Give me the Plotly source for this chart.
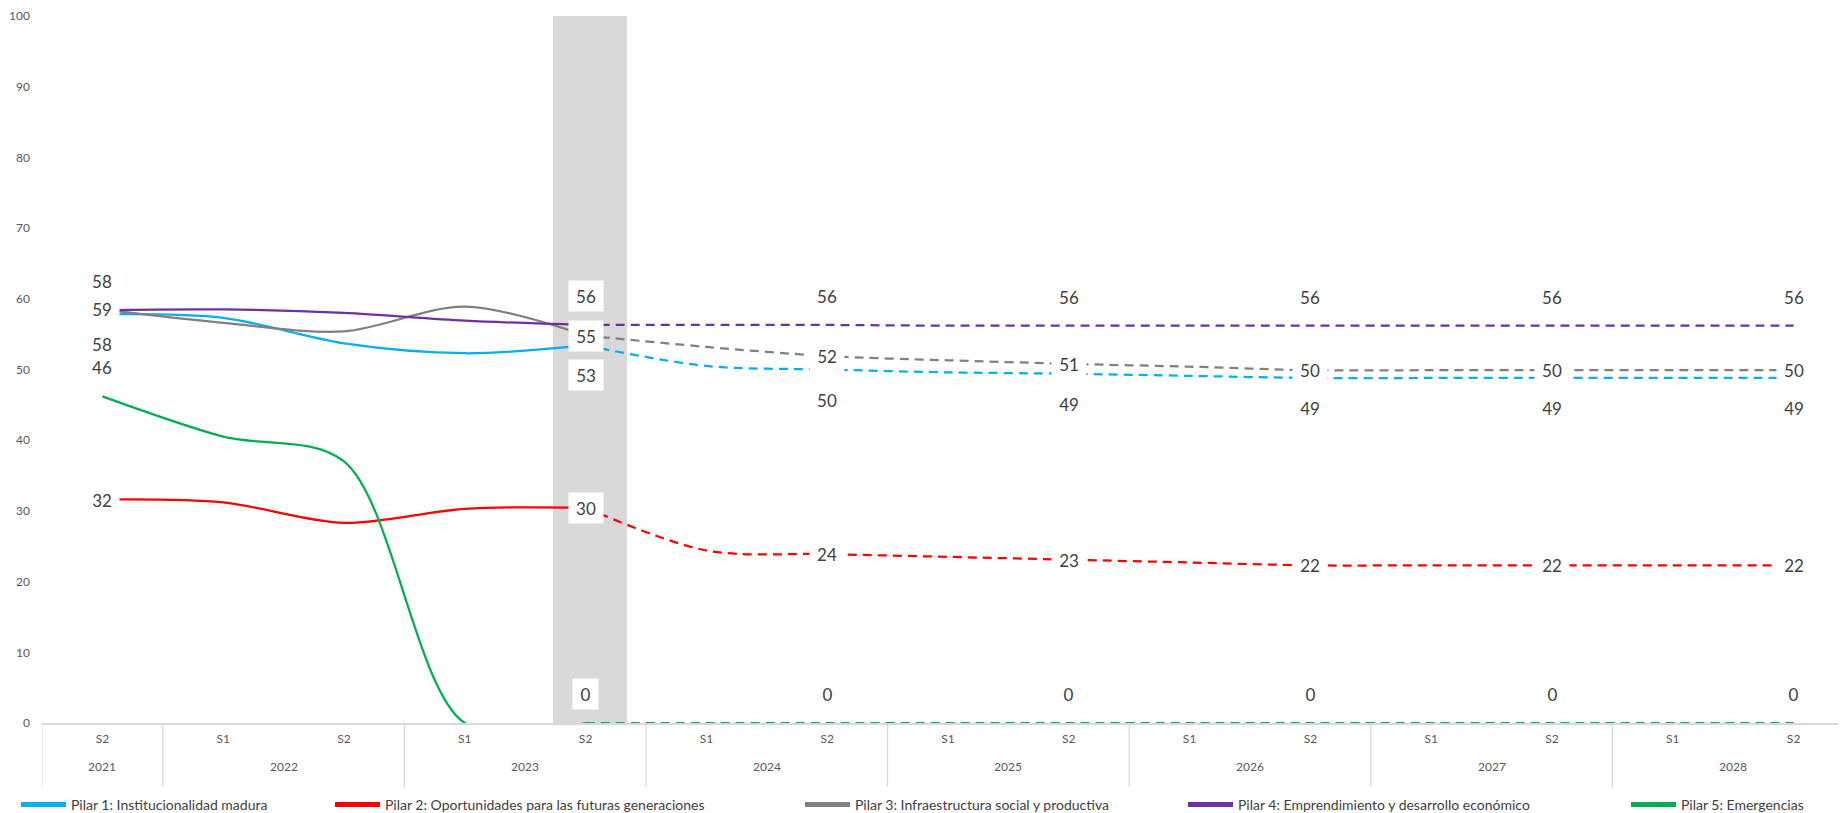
import plotly.graph_objects as go

# ---------------- data ----------------
years = ["2021", "2022", "2022", "2023", "2023", "2024", "2024", "2025", "2025",
         "2026", "2026", "2027", "2027", "2028", "2028"]
semesters = ["S2", "S1", "S2", "S1", "S2", "S1", "S2", "S1", "S2",
             "S1", "S2", "S1", "S2", "S1", "S2"]

pilar1 = [57.8, 57.3, 53.7, 52.3, 53.4, 50.5, 50.0, 49.6, 49.4, 49.1, 48.8, 48.8, 48.8, 48.8, 48.8]
pilar2 = [31.6, 31.2, 28.3, 30.3, 30.45, 24.4, 23.9, 23.5, 23.1, 22.7, 22.3, 22.3, 22.3, 22.3, 22.3]
pilar3 = [58.5, 56.6, 55.4, 58.9, 54.8, 53.2, 51.9, 51.3, 50.8, 50.4, 49.9, 49.9, 49.9, 49.9, 49.9]
pilar4 = [58.4, 58.5, 58.0, 56.9, 56.3, 56.3, 56.3, 56.2, 56.2, 56.2, 56.2, 56.2, 56.2, 56.2, 56.2]
pilar5 = [46.2, 40.5, 37.0, 0, 0, 0, 0, 0, 0, 0, 0, 0, 0, 0, 0]

highlight = [None, None, None, None, 100, None, None, None, None, None, None, None, None, None, None]

names = [
    "Pilar 1: Institucionalidad madura",
    "Pilar 2: Oportunidades para las futuras generaciones",
    "Pilar 3: Infraestructura social y productiva",
    "Pilar 4: Emprendimiento y desarrollo económico",
    "Pilar 5: Emergencias",
]
series = [pilar1, pilar2, pilar3, pilar4, pilar5]
colors = ["#00B0F0", "#FF0000", "#808080", "#7030A0", "#00B050"]
label_pos = ["below", "center", "center", "above", "above"]
last_actual = 4                      # 2023 S2: end of observed data
label_idx = [0, 4, 6, 8, 10, 12, 14]  # points carrying a data label
legend_x_px = [8, 322, 792, 1175, 1618]

# ---------------- figure ----------------
# the page body adds an 8px offset; positions below are in figure pixels
W, H = 1846, 813
ML, MT = 34, 8
plot_h = 708
MB = H - MT - plot_h
plot_w = W - ML
cat_px = 120.8
xi = list(range(len(semesters)))

fig = go.Figure()

fig.add_trace(go.Bar(
    x=xi, y=highlight, width=0.62, offset=-0.274,
    marker=dict(color="#D9D9D9", line=dict(width=0)),
    showlegend=False, hoverinfo="skip",
))

for i, (vals, name, col) in enumerate(zip(series, names, colors)):
    leg = "legend" if i == 0 else f"legend{i+1}"
    fig.add_trace(go.Scatter(
        x=xi[:last_actual + 1], y=vals[:last_actual + 1],
        mode="lines", line=dict(color=col, width=2.25, shape="spline", smoothing=0.9),
        name=name, showlegend=False,
    ))
    fig.add_trace(go.Scatter(
        x=xi[last_actual:], y=vals[last_actual:],
        mode="lines", line=dict(color=col, width=2.25, shape="spline", smoothing=0.9, dash="9px,6px"),
        name=name, showlegend=False,
    ))
    # legend entry (thicker key line, as in the original)
    fig.add_trace(go.Scatter(
        x=[None], y=[None], mode="lines", line=dict(color=col, width=5),
        name=name, legend=leg, showlegend=True,
    ))

# data labels
shifts = {"above": 29, "center": 0, "below": -30}
for vals, pos in zip(series, label_pos):
    for k in label_idx:
        txt = str(int(vals[k] + 0.5))
        fig.add_annotation(
            x=xi[k], y=vals[k], xref="x", yref="y", text=txt, showarrow=False,
            yshift=shifts[pos], font=dict(family="Lato, sans-serif", size=17, color="#404040"),
            bgcolor="white", width=9 * len(txt) + 16, height=30, borderpad=0,
        )

# year labels (outer category level) and dividers
tick_font = dict(family="Lato, sans-serif", size=12, color="#595959")
uniq_years = list(dict.fromkeys(years))
for yr in uniq_years:
    idx = [i for i, y in enumerate(years) if y == yr]
    fig.add_annotation(
        x=sum(idx) / len(idx), y=0, xref="x", yref="paper", yshift=-43,
        text=yr, showarrow=False, font=tick_font, yanchor="middle",
    )
    fig.add_shape(
        type="line", xref="x", yref="paper",
        x0=idx[0] - 0.5, x1=idx[0] - 0.5, y0=0, y1=-64 / plot_h,
        line=dict(color="#D9D9D9", width=1.2),
    )

# legends
legend_common = dict(orientation="h", yanchor="middle", xanchor="left", y=-82 / plot_h,
                     bgcolor="rgba(0,0,0,0)", borderwidth=0, itemwidth=45,
                     font=dict(family="Lato, sans-serif", size=14, color="#404040"))
for i, px in enumerate(legend_x_px):
    key = "legend" if i == 0 else f"legend{i+1}"
    fig.update_layout(**{key: dict(legend_common, x=(px - ML) / plot_w)})

fig.update_layout(
    width=W, height=H,
    margin=dict(l=ML, r=0, t=MT, b=MB, pad=0),
    plot_bgcolor="white", paper_bgcolor="white",
    font=dict(family="Lato, sans-serif", color="#595959"),
    xaxis=dict(
        range=[-0.5, -0.5 + plot_w / cat_px], tickvals=xi, ticktext=semesters,
        showline=True, linecolor="#D9D9D9", linewidth=1.5,
        showgrid=False, zeroline=False, ticks="", ticklabelstandoff=4,
        tickfont=tick_font, automargin=False,
    ),
    yaxis=dict(
        range=[0, 100], dtick=10, showgrid=False, zeroline=False, showline=False,
        ticks="", tickfont=tick_font, ticklabelstandoff=11,
        ticklabeloverflow="allow", automargin=False,
    ),
    bargap=0,
)

fig.write_html("out.html")
